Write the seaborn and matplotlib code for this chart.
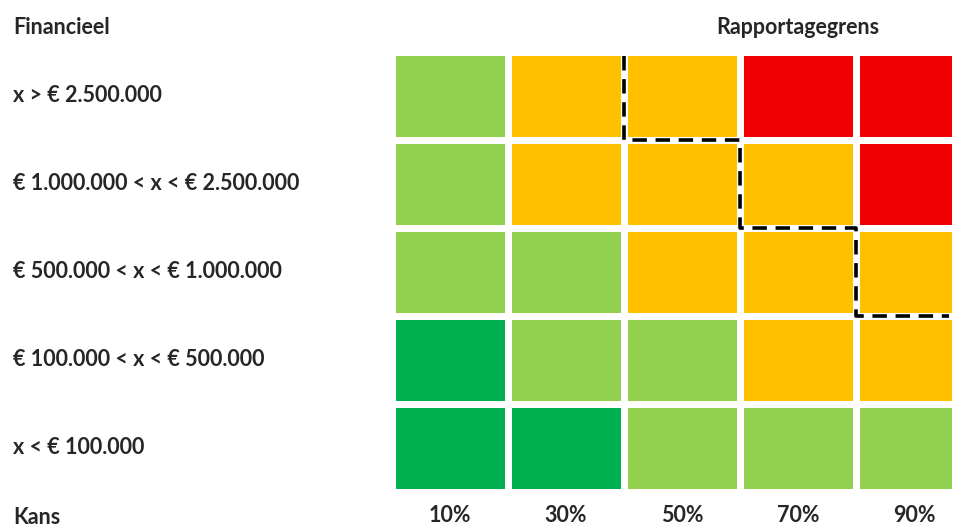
import numpy as np
import pandas as pd
import seaborn as sns
import matplotlib.pyplot as plt
from matplotlib.colors import ListedColormap

# Risk matrix data
impact_labels = ["x > € 2.500.000",
                 "€ 1.000.000 < x < € 2.500.000",
                 "€ 500.000 < x < € 1.000.000",
                 "€ 100.000 < x < € 500.000",
                 "x < € 100.000"]
chance_labels = ["10%", "30%", "50%", "70%", "90%"]
# 0 = dark green, 1 = light green, 2 = orange, 3 = red
risk_levels = [
    [1, 2, 2, 3, 3],
    [1, 2, 2, 2, 3],
    [1, 1, 2, 2, 2],
    [0, 1, 1, 2, 2],
    [0, 0, 1, 1, 1],
]
level_colors = ["#00B050", "#92D050", "#FFC000", "#F00000"]
# reporting boundary (column edge, row edge)
boundary_x = [2, 2, 3, 3, 4, 4, 4.8]
boundary_y = [0.05, 1, 1, 2, 2, 3, 3]

sns.set_theme(style="white")
plt.rcParams['font.family'] = ['Lato', 'DejaVu Sans']
plt.rcParams['font.weight'] = 'bold'
FS = 15.5

df = pd.DataFrame(risk_levels, index=impact_labels, columns=chance_labels)

fig = plt.figure(figsize=(9.58, 5.27), dpi=100)
W, H = 958, 527
ax = fig.add_axes([392 / W, 1 - 492 / H, 5 * 116 / W * 0.965, 5 * 88 / H])

sns.heatmap(df, ax=ax, cmap=ListedColormap(level_colors), vmin=-0.5, vmax=3.5,
            cbar=False, linewidths=4.8, linecolor="white", square=False)
ax.set_xlim(0, 4.825)

ax.plot(boundary_x, boundary_y, color="black", lw=2.6, ls=(0, (4, 2.4)),
        clip_on=False, zorder=5)

ax.tick_params(axis='y', length=0, pad=273)
ax.tick_params(axis='x', length=0, pad=9)
for lab in ax.get_yticklabels():
    lab.set_horizontalalignment('left')
    lab.set_rotation(0)
    lab.set_fontsize(FS)
    lab.set_fontweight('bold')
for lab in ax.get_xticklabels():
    lab.set_rotation(0)
    lab.set_fontsize(FS)
    lab.set_fontweight('bold')
ax.set_xlabel("")
ax.set_ylabel("")

fig.text(13 / W, 1 - 27 / H, "Financieel", fontsize=FS, fontweight='bold', va='center', ha='left')
fig.text(798 / W, 1 - 27 / H, "Rapportagegrens", fontsize=FS, fontweight='bold', va='center', ha='center')
fig.text(13 / W, 1 - 518 / H, "Kans", fontsize=FS, fontweight='bold', va='center', ha='left')

fig.savefig("out.png", dpi=100)
